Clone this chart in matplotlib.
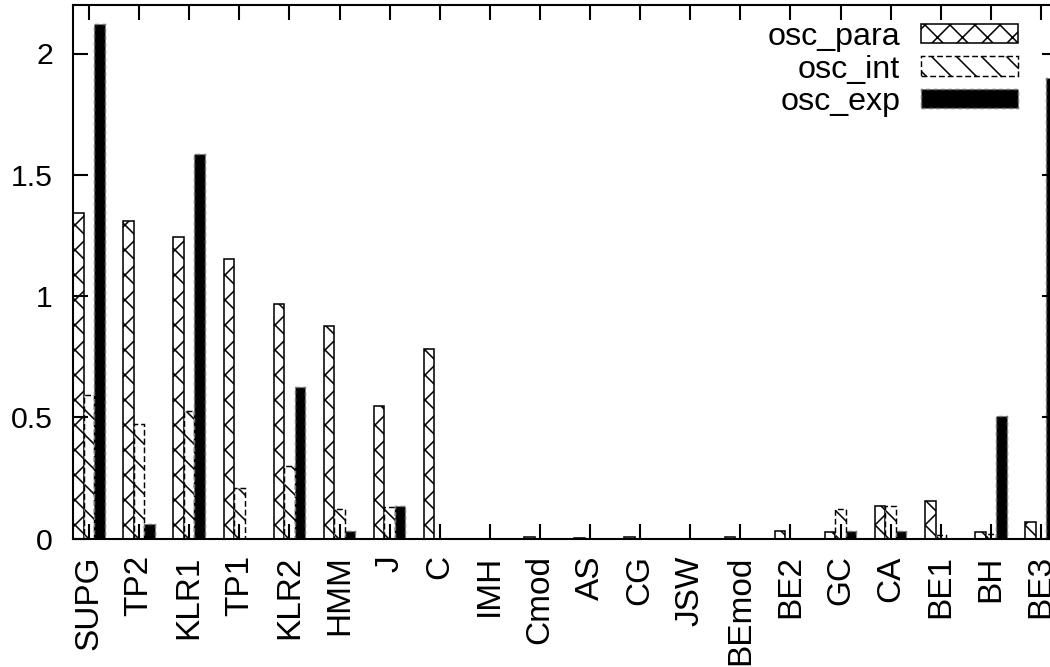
import matplotlib
matplotlib.use("Agg")
import matplotlib.pyplot as plt
import numpy as np

categories = ["SUPG", "TP2", "KLR1", "TP1", "KLR2", "HMM", "J", "C", "IMH", "Cmod",
              "AS", "CG", "JSW", "BEmod", "BE2", "GC", "CA", "BE1", "BH", "BE3"]
osc_para = [1.341, 1.31, 1.242, 1.152, 0.967, 0.876, 0.546, 0.78, 0.0, 0.005,
            0.003, 0.008, 0.0, 0.006, 0.031, 0.027, 0.134, 0.155, 0.027, 0.069]
osc_int = [0.592, 0.472, 0.527, 0.207, 0.30, 0.12, 0.129, 0.0, 0.0, 0.0,
           0.0, 0.0, 0.0, 0.0, 0.0, 0.122, 0.134, 0.014, 0.018, 0.0]
osc_exp = [2.122, 0.06, 1.586, 0.0, 0.626, 0.031, 0.134, 0.0, 0.0, 0.0,
           0.0, 0.0, 0.0, 0.0, 0.0, 0.031, 0.031, 0.0, 0.506, 1.90]
series_names = ["osc_para", "osc_int", "osc_exp"]
yticks = [0, 0.5, 1, 1.5, 2]
ytick_labels = ["0", "0.5", "1", "1.5", "2"]

plt.rcParams['font.family'] = ['Liberation Sans', 'DejaVu Sans']
plt.rcParams['hatch.linewidth'] = 0.75

W, H = 1050, 667
fig = plt.figure(figsize=(7.0, 667 / 150), dpi=150)
ax = fig.add_axes([73 / W, 128.5 / H, 984 / W, 533.5 / H])

x = np.arange(len(categories))
bw = 0.21
ax.bar(x - bw, osc_para, width=bw, facecolor='white', edgecolor='black',
       hatch='xx', linewidth=0.75, label=series_names[0])
ax.bar(x, osc_int, width=bw, facecolor='white', edgecolor='black',
       hatch='\\\\', linewidth=0.7, linestyle=(0, (4, 2)), label=series_names[1])
ax.bar(x + bw, osc_exp, width=bw, facecolor='black', edgecolor='#777777',
       linewidth=0.7, linestyle=(0, (3, 2)), label=series_names[2])

ax.set_xlim(-0.32, 19.32)
ax.set_ylim(0, 2.2)
ax.set_xticks(x)
ax.set_xticklabels(categories, rotation=90, fontsize=16)
ax.set_yticks(yticks)
ax.set_yticklabels(ytick_labels, fontsize=14.5)
ax.tick_params(axis='both', which='major', direction='in', length=7.2, width=1.0,
               top=True, right=True)
ax.tick_params(axis='x', pad=8)
ax.tick_params(axis='y', pad=9.6)
ax.minorticks_off()
for s in ax.spines.values():
    s.set_linewidth(1.0)

leg = ax.legend(loc='upper right', bbox_to_anchor=(1018 / W, 1 - 22 / H),
                bbox_transform=fig.transFigure, frameon=False, markerfirst=False,
                fontsize=15.5, handlelength=3.0, handleheight=0.55,
                handletextpad=0.65, labelspacing=0.08, borderpad=0, borderaxespad=0)

fig.savefig("out.png", dpi=150)
